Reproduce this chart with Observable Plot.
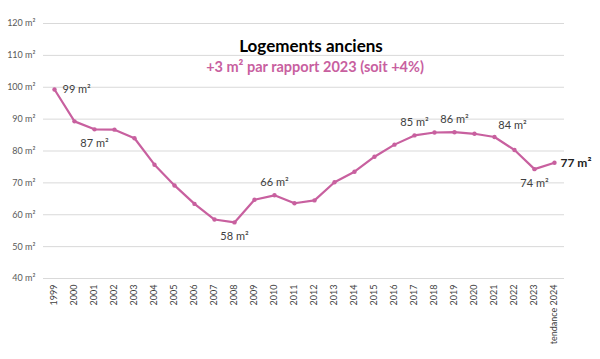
<!DOCTYPE html>
<html>
<head>
<meta charset="utf-8">
<script src="https://cdn.jsdelivr.net/npm/d3@7"></script>
<script src="https://cdn.jsdelivr.net/npm/@observablehq/plot@0.6"></script>
<style>
  body { margin: 0; background: #fff; }
  #chart { width: 600px; height: 359px; }
</style>
</head>
<body>
<div id="chart"></div>
<script>
const years = ["1999","2000","2001","2002","2003","2004","2005","2006","2007","2008","2009","2010","2011","2012","2013","2014","2015","2016","2017","2018","2019","2020","2021","2022","2023","tendance 2024"];
const surfaces = [99.3,89.3,86.8,86.7,84.0,75.7,69.2,63.4,58.5,57.6,64.7,66.1,63.6,64.5,70.2,73.5,78.2,82.0,84.9,85.8,85.9,85.4,84.4,80.3,74.3,76.3];
const yTicks = [40,50,60,70,80,90,100,110,120];
const labelYears = ["1999","2001","2008","2010","2017","2019","2021","2023"];
const labelTexts = ["99 m²","87 m²","58 m²","66 m²","85 m²","86 m²","84 m²","74 m²"];
const labelPos = ["right","below","below","above","above","above","aboveRight","below"];
const lastLabel = "77 m²";
const title = "Logements anciens";
const subtitle = "+3 m² par rapport 2023 (soit +4%)";

const data = years.map((y, i) => ({year: y, value: surfaces[i]}));
const labels = labelYears.map((y, i) => ({year: y, value: surfaces[years.indexOf(y)], text: labelTexts[i], pos: labelPos[i]}));
const pink = "#c8609f";
const font = "Lato, 'Open Sans', sans-serif";

const offsets = {
  right: {dx: 8, dy: 0, anchor: "start"},
  below: {dx: 0, dy: 14, anchor: "middle"},
  above: {dx: 0, dy: -13, anchor: "middle"},
  aboveRight: {dx: 18, dy: -12, anchor: "middle"}
};

const chart = Plot.plot({
  width: 600,
  height: 359,
  marginLeft: 43,
  marginRight: 36,
  marginTop: 23,
  marginBottom: 81,
  style: {fontFamily: font, background: "#fff"},
  x: {type: "point", domain: years, padding: 0.5, label: null},
  y: {domain: [40, 120], label: null},
  marks: [
    Plot.gridY(yTicks, {stroke: "#d9d9d9", strokeOpacity: 1, strokeWidth: 1}),
    Plot.axisY(yTicks, {tickSize: 0, tickPadding: 8, tickFormat: d => d + " m²", fontSize: 9, fill: "#595959", label: null}),
    Plot.axisX({tickSize: 0, tickRotate: -90, tickPadding: 6, fontSize: 9, fill: "#404040", label: null}),
    Plot.line(data, {x: "year", y: "value", stroke: pink, strokeWidth: 2.2}),
    Plot.dot(data, {x: "year", y: "value", fill: pink, r: 2.2}),
    ...Object.keys(offsets).map(k => Plot.text(labels.filter(d => d.pos === k), {
      x: "year", y: "value", text: "text", dx: offsets[k].dx, dy: offsets[k].dy,
      textAnchor: offsets[k].anchor, fontSize: 11, fill: "#404040"
    })),
    Plot.text([data[data.length - 1]], {x: "year", y: "value", text: () => lastLabel, dx: 6, textAnchor: "start", fontSize: 12, fontWeight: "bold", fill: "#222"}),
    Plot.text([title], {frameAnchor: "top", dx: 7, dy: 16, fontSize: 17, fontWeight: "bold", fill: "#000"}),
    Plot.text([subtitle], {frameAnchor: "top", dx: 11, dy: 38, fontSize: 14.5, fontWeight: "bold", fill: pink})
  ]
});
document.getElementById("chart").appendChild(chart);
</script>
</body>
</html>
